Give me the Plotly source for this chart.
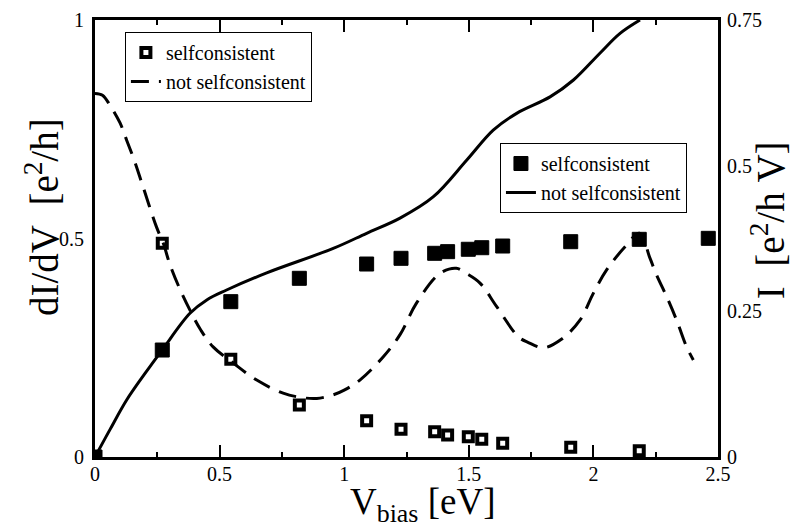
import plotly.graph_objects as go

# ---- data ----
# self-consistent points
V_sc_open = [0.27, 0.545, 0.82, 1.09, 1.228, 1.363, 1.415, 1.498, 1.552, 1.636, 1.909, 2.184]
dIdV_sc = [0.489, 0.2235, 0.119, 0.083, 0.0633, 0.058, 0.0503, 0.0465, 0.0405, 0.0313, 0.0222, 0.0144]

V_sc_filled = [0.0, 0.27, 0.545, 0.82, 1.09, 1.228, 1.363, 1.415, 1.498, 1.552, 1.636, 1.909, 2.184, 2.461]
I_sc = [0.0, 0.1836, 0.2666, 0.3067, 0.3312, 0.341, 0.3496, 0.3524, 0.3565, 0.3592, 0.3621, 0.3695, 0.3736, 0.3753]

# not self-consistent dI/dV (dashed, left axis)
V_dIdV = [0.0, 0.03, 0.06, 0.10, 0.127, 0.16, 0.193, 0.247, 0.274, 0.301, 0.34, 0.381, 0.425, 0.474,
          0.555, 0.649, 0.755, 0.83, 0.89, 0.955, 1.0, 1.063, 1.157, 1.224, 1.29, 1.384, 1.45, 1.49,
          1.545, 1.612, 1.699, 1.739, 1.8, 1.873, 1.946, 2.0, 2.053, 2.127, 2.185, 2.227, 2.254,
          2.294, 2.334, 2.374, 2.401]
dIdV_nsc = [0.832, 0.828, 0.805, 0.765, 0.725, 0.675, 0.618, 0.526, 0.489, 0.44, 0.385, 0.336, 0.29, 0.252,
            0.215, 0.176, 0.146, 0.136, 0.134, 0.142, 0.153, 0.176, 0.2295, 0.28, 0.352, 0.42, 0.432, 0.42,
            0.398, 0.344, 0.275, 0.262, 0.25, 0.27, 0.313, 0.375, 0.428, 0.481, 0.512, 0.455, 0.416,
            0.367, 0.313, 0.252, 0.222]

# not self-consistent current (solid, right axis)
V_I = [0.0, 0.06, 0.127, 0.2, 0.27, 0.381, 0.45, 0.528, 0.689, 0.956, 1.09, 1.224, 1.358, 1.492, 1.598,
       1.692, 1.826, 1.92, 2.026, 2.107, 2.187]
I_nsc = [0.0, 0.047, 0.0978, 0.143, 0.184, 0.2466, 0.27, 0.2866, 0.316, 0.358, 0.384, 0.41, 0.4467, 0.5097, 0.561,
         0.5898, 0.618, 0.647, 0.693, 0.727, 0.75]

x_ticks = [0, 0.5, 1, 1.5, 2, 2.5]
left_ticks = [0, 0.5, 1]
right_ticks = [0, 0.25, 0.5, 0.75]

FONT = "Liberation Serif"

fig = go.Figure()

fig.add_trace(go.Scatter(x=V_dIdV, y=dIdV_nsc, mode="lines", name="not selfconsistent",
                         line=dict(color="black", width=3, dash="18px,10px", shape="spline"),
                         legend="legend", yaxis="y"))
fig.add_trace(go.Scatter(x=V_sc_open, y=dIdV_sc, mode="markers", name="selfconsistent",
                         marker=dict(symbol="square-open", size=9, color="black", line=dict(width=4, color="black")),
                         legend="legend", yaxis="y"))
fig.add_trace(go.Scatter(x=V_I, y=I_nsc, mode="lines", name="not selfconsistent",
                         line=dict(color="black", width=3, shape="spline"),
                         legend="legend2", yaxis="y2"))
fig.add_trace(go.Scatter(x=V_sc_filled, y=I_sc, mode="markers", name="selfconsistent",
                         marker=dict(symbol="square", size=14, color="black", line=dict(width=1, color="black")),
                         legend="legend2", yaxis="y2"))

tickfont = dict(family=FONT, size=20, color="black")
legfont = dict(family=FONT, size=20, color="black")

fig.update_layout(
    width=793, height=529,
    margin=dict(l=95, r=75, t=20, b=72, autoexpand=False),
    paper_bgcolor="white", plot_bgcolor="white",
    font=dict(family=FONT, color="black"),
    xaxis=dict(range=[0, 2.5], tickvals=x_ticks, ticks="inside", ticklen=12, tickwidth=2,
               tickcolor="black", showline=True, linewidth=3, linecolor="black", mirror="ticks",
               showgrid=False, zeroline=False, tickfont=tickfont, ticklabelstandoff=-3,
               minor=dict(ticks="inside", dtick=0.25, tick0=0, ticklen=5, tickwidth=2, tickcolor="black", showgrid=False)),
    yaxis=dict(range=[0, 1], tickvals=left_ticks, ticks="", showline=True, linewidth=3, linecolor="black",
               showgrid=False, zeroline=False, tickfont=tickfont, ticklabelstandoff=4),
    yaxis2=dict(range=[0, 0.75], tickvals=right_ticks, ticks="", overlaying="y", side="right", anchor="x",
                showline=True, linewidth=3, linecolor="black", showgrid=False, zeroline=False,
                tickfont=tickfont, ticklabelstandoff=2),
    yaxis3=dict(range=[0, 0.75], overlaying="y", side="left", anchor="x", tick0=0, dtick=0.25,
                ticks="inside", ticklen=13, tickwidth=2, tickcolor="black", showticklabels=False,
                showline=False, showgrid=False, zeroline=False,
                minor=dict(ticks="inside", dtick=0.05, tick0=0, ticklen=7, tickwidth=2, tickcolor="black", showgrid=False)),
    yaxis4=dict(range=[0, 1], overlaying="y", side="right", anchor="x", tick0=0, dtick=0.1,
                ticks="inside", ticklen=8, tickwidth=2, tickcolor="black", showticklabels=False,
                showline=False, showgrid=False, zeroline=False),
    legend=dict(x=0.048, y=0.9725, xanchor="left", yanchor="top", bgcolor="white",
                bordercolor="black", borderwidth=1, font=legfont,
                traceorder="reversed", itemwidth=30),
    legend2=dict(x=0.65, y=0.7185, xanchor="left", yanchor="top", bgcolor="white",
                 bordercolor="black", borderwidth=1, font=legfont,
                 traceorder="reversed", itemwidth=30),
    annotations=[
        dict(text="dI/dV\u00a0\u00a0[e<sup>2</sup>/h]", xref="paper", yref="paper", x=0, y=0.549,
             xanchor="center", yanchor="middle", xshift=-53, textangle=-90, showarrow=False,
             font=dict(family=FONT, size=39, color="black")),
        dict(text="I\u00a0\u00a0[e<sup>2</sup>/h\u00a0V]", xref="paper", yref="paper", x=1, y=0.542,
             xanchor="center", yanchor="middle", xshift=50, textangle=-90, showarrow=False,
             font=dict(family=FONT, size=39, color="black")),
        dict(text="V<sub>bias</sub>\u00a0[eV]", xref="paper", yref="paper", x=0.5265, y=-0.109,
             xanchor="center", yanchor="middle", showarrow=False,
             font=dict(family=FONT, size=37, color="black")),
    ],
)

fig.write_html("out.html")
